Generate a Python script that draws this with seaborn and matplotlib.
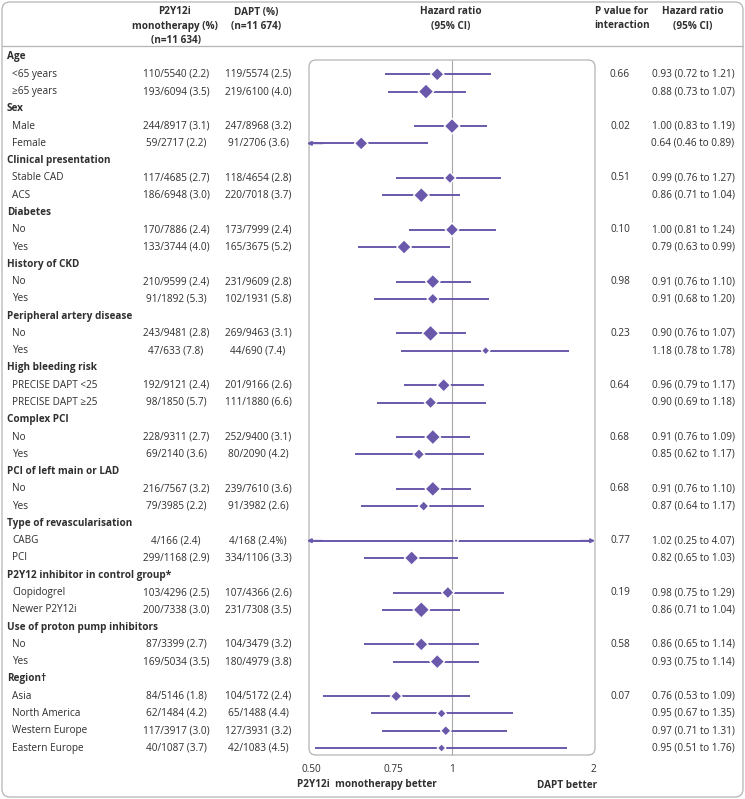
import pandas as pd
import seaborn as sns
import matplotlib.pyplot as plt
from matplotlib.patches import FancyBboxPatch
from matplotlib.ticker import NullLocator

# ---------- 1. Data ----------
groups = [
    "Age", "Sex", "Clinical presentation", "Diabetes", "History of CKD",
    "Peripheral artery disease", "High bleeding risk", "Complex PCI",
    "PCI of left main or LAD", "Type of revascularisation",
    "P2Y12 inhibitor in control group*", "Use of proton pump inhibitors", "Region†",
]
subgroups = [
    ["<65 years", "≥65 years"],
    ["Male", "Female"],
    ["Stable CAD", "ACS"],
    ["No", "Yes"],
    ["No", "Yes"],
    ["No", "Yes"],
    ["PRECISE DAPT <25", "PRECISE DAPT ≥25"],
    ["No", "Yes"],
    ["No", "Yes"],
    ["CABG", "PCI"],
    ["Clopidogrel", "Newer P2Y12i"],
    ["No", "Yes"],
    ["Asia", "North America", "Western Europe", "Eastern Europe"],
]
p_interaction = ["0.66", "0.02", "0.51", "0.10", "0.98", "0.23", "0.64",
                 "0.68", "0.68", "0.77", "0.19", "0.58", "0.07"]

mono = [
    "110/5540 (2.2)", "193/6094 (3.5)", "244/8917 (3.1)", "59/2717 (2.2)",
    "117/4685 (2.7)", "186/6948 (3.0)", "170/7886 (2.4)", "133/3744 (4.0)",
    "210/9599 (2.4)", "91/1892 (5.3)", "243/9481 (2.8)", "47/633 (7.8)",
    "192/9121 (2.4)", "98/1850 (5.7)", "228/9311 (2.7)", "69/2140 (3.6)",
    "216/7567 (3.2)", "79/3985 (2.2)", "4/166 (2.4)", "299/1168 (2.9)",
    "103/4296 (2.5)", "200/7338 (3.0)", "87/3399 (2.7)", "169/5034 (3.5)",
    "84/5146 (1.8)", "62/1484 (4.2)", "117/3917 (3.0)", "40/1087 (3.7)",
]
dapt = [
    "119/5574 (2.5)", "219/6100 (4.0)", "247/8968 (3.2)", "91/2706 (3.6)",
    "118/4654 (2.8)", "220/7018 (3.7)", "173/7999 (2.4)", "165/3675 (5.2)",
    "231/9609 (2.8)", "102/1931 (5.8)", "269/9463 (3.1)", "44/690 (7.4)",
    "201/9166 (2.6)", "111/1880 (6.6)", "252/9400 (3.1)", "80/2090 (4.2)",
    "239/7610 (3.6)", "91/3982 (2.6)", "4/168 (2.4%)", "334/1106 (3.3)",
    "107/4366 (2.6)", "231/7308 (3.5)", "104/3479 (3.2)", "180/4979 (3.8)",
    "104/5172 (2.4)", "65/1488 (4.4)", "127/3931 (3.2)", "42/1083 (4.5)",
]
hr = [0.93, 0.88, 1.00, 0.64, 0.99, 0.86, 1.00, 0.79, 0.91, 0.91, 0.90, 1.18,
      0.96, 0.90, 0.91, 0.85, 0.91, 0.87, 1.02, 0.82, 0.98, 0.86, 0.86, 0.93,
      0.76, 0.95, 0.97, 0.95]
ci_low = [0.72, 0.73, 0.83, 0.46, 0.76, 0.71, 0.81, 0.63, 0.76, 0.68, 0.76, 0.78,
          0.79, 0.69, 0.76, 0.62, 0.76, 0.64, 0.25, 0.65, 0.75, 0.71, 0.65, 0.75,
          0.53, 0.67, 0.71, 0.51]
ci_high = [1.21, 1.07, 1.19, 0.89, 1.27, 1.04, 1.24, 0.99, 1.10, 1.20, 1.07, 1.78,
           1.17, 1.18, 1.09, 1.17, 1.10, 1.17, 4.07, 1.03, 1.29, 1.04, 1.14, 1.14,
           1.09, 1.35, 1.31, 1.76]
# relative weight shown by diamond width (pixels)
box_weight = [12, 14, 14, 12, 10, 14, 12, 13, 13, 10, 15, 7, 12, 11, 14, 10,
              14, 9, 3, 13, 11, 15, 12, 13, 10, 8, 9, 7]

# ---------- 2. Build row table ----------
rows = []
i = 0
k = 0
for g, subs, p in zip(groups, subgroups, p_interaction):
    rows.append(dict(row=i, label=g, header=True))
    i += 1
    for j, s in enumerate(subs):
        rows.append(dict(row=i, label=s, header=False, mono=mono[k], dapt=dapt[k],
                         hr=hr[k], lo=ci_low[k], hi=ci_high[k], w=box_weight[k],
                         p=p if j == 0 else ""))
        i += 1
        k += 1
df = pd.DataFrame(rows)
sub = df[~df["header"]].copy()
sub["s"] = ((sub["w"] + 1.5) * 0.509) ** 2

# ---------- 3. Figure ----------
sns.set_style("white")
plt.rcParams["font.family"] = ["Open Sans", "DejaVu Sans"]

PURPLE = "#6a58ab"
TXT = "#2f2f2f"
GREY = "#b4b4b4"
FS = 7.2
W, H = 745, 799
ROW0, ROWH = 57, 17.275


def ypx(r):
    return ROW0 + ROWH * r


fig = plt.figure(figsize=(W / 100, H / 100), dpi=100)
bg = fig.add_axes([0, 0, 1, 1])
bg.set_xlim(0, W)
bg.set_ylim(H, 0)
bg.axis("off")

bg.add_patch(FancyBboxPatch((2, 2), W - 4, H - 4, boxstyle="round,pad=0,rounding_size=8",
                            fc="none", ec=GREY, lw=0.9))
bg.plot([2, W - 2], [46, 46], color=GREY, lw=0.9)
bg.add_patch(FancyBboxPatch((309, 60), 286, 695, boxstyle="round,pad=0,rounding_size=7",
                            fc="none", ec=GREY, lw=0.9))

# column headers
hdr = dict(fontsize=FS, fontweight="bold", color=TXT, ha="center", va="center")
bg.text(175, 12, "P2Y12i", **hdr)
bg.text(175, 26, "monotherapy (%)", **hdr)
bg.text(176, 40, "(n=11 634)", **hdr)
bg.text(256, 12, "DAPT (%)", **hdr)
bg.text(256, 26, "(n=11 674)", **hdr)
bg.text(451, 12, "Hazard ratio", **hdr)
bg.text(451, 26, "(95% CI)", **hdr)
bg.text(622, 12, "P value for", **hdr)
bg.text(622, 26, "interaction", **hdr)
bg.text(693, 12, "Hazard ratio", **hdr)
bg.text(693, 26, "(95% CI)", **hdr)

# table text
for _, r in df.iterrows():
    y = ypx(r["row"])
    if r["header"]:
        bg.text(7, y, r["label"], fontsize=FS, fontweight="bold", color=TXT, va="center")
        continue
    bg.text(12, y, r["label"], fontsize=FS, color=TXT, va="center")
    bg.text(176, y, r["mono"], fontsize=FS, color=TXT, va="center", ha="center")
    bg.text(258, y, r["dapt"], fontsize=FS, color=TXT, va="center", ha="center")
    bg.text(620, y, r["p"], fontsize=FS, color=TXT, va="center", ha="center")
    bg.text(693, y, f"{r['hr']:.2f} ({r['lo']:.2f} to {r['hi']:.2f})",
            fontsize=FS, color=TXT, va="center", ha="center")

bg.text(297, 785, "P2Y12i  monotherapy better", fontsize=FS, fontweight="bold",
        color=TXT, va="center", ha="left")
bg.text(597, 785, "DAPT better", fontsize=FS, fontweight="bold",
        color=TXT, va="center", ha="right")

# ---------- 4. Forest panel ----------
ax = fig.add_axes([311 / W, (H - 757) / H, 282 / W, (757 - 46) / H])
ax.patch.set_alpha(0)
ax.vlines(1, (60 - ROW0) / ROWH, (755 - ROW0) / ROWH, color="#a8a8a8", lw=0.8, zorder=1)

for _, r in sub.iterrows():
    lo = max(r["lo"], 0.5)
    hi = min(r["hi"], 2.0)
    ax.hlines(r["row"], lo, hi, color=PURPLE, lw=1.4, zorder=2)
    if r["lo"] < 0.5:
        ax.annotate("", xy=(0.49, r["row"]), xytext=(0.53, r["row"]),
                    arrowprops=dict(arrowstyle="-|>", color=PURPLE, lw=1.2,
                                    mutation_scale=6, shrinkA=0, shrinkB=0),
                    annotation_clip=False)
    if r["hi"] > 2.0:
        ax.annotate("", xy=(2.02, r["row"]), xytext=(1.88, r["row"]),
                    arrowprops=dict(arrowstyle="-|>", color=PURPLE, lw=1.2,
                                    mutation_scale=6, shrinkA=0, shrinkB=0),
                    annotation_clip=False)

sns.scatterplot(data=sub, x="hr", y="row", size="s",
                sizes=(sub["s"].min(), sub["s"].max()),
                size_norm=(sub["s"].min(), sub["s"].max()),
                marker="D", color=PURPLE, edgecolor="white", linewidth=1.0,
                legend=False, ax=ax, zorder=3, clip_on=False)

ax.set_xscale("log")
ax.set_xlim(0.5, 2)
ax.set_ylim((757 - ROW0) / ROWH, (46 - ROW0) / ROWH)
ax.set_xticks([0.5, 0.75, 1, 2])
ax.set_xticklabels(["0.50", "0.75", "1", "2"])
ax.xaxis.set_minor_locator(NullLocator())
ax.set_yticks([])
ax.set_xlabel("")
ax.set_ylabel("")
ax.tick_params(axis="x", length=0, pad=5, labelsize=FS, labelcolor=TXT)
sns.despine(ax=ax, left=True, bottom=True)

fig.savefig("out.png", dpi=100)
